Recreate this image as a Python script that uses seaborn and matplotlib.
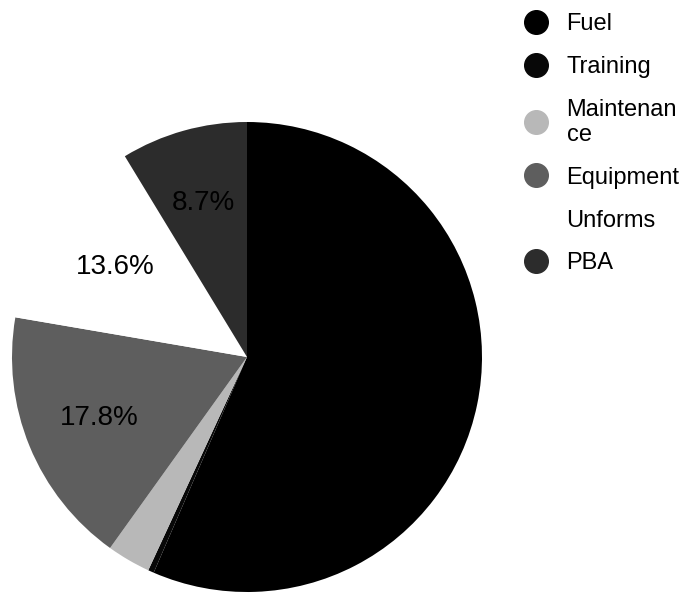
import matplotlib
matplotlib.use("Agg")
import matplotlib.pyplot as plt
from matplotlib.lines import Line2D
import seaborn as sns

sns.set_theme(style="white")
plt.rcParams['font.family'] = ['Liberation Sans', 'DejaVu Sans']
plt.rcParams['text.color'] = 'black'

# values (percent of total)
categories = ["Fuel", "Training", "Maintenance", "Equipment", "Unforms", "PBA"]
legend_labels = ["Fuel", "Training", "Maintenan\nce", "Equipment", "Unforms", "PBA"]
shares = [56.5, 0.4, 3.0, 17.8, 13.6, 8.7]
colors = ["#000000", "#080808", "#b8b8b8", "#5e5e5e", "#ffffff", "#2c2c2c"]


def pct_label(p):
    # small slices carry no visible label in the reference
    return f"{p:.1f}%" if p >= 5 else ""


fig = plt.figure(figsize=(6.86, 5.93), dpi=100)
ax = fig.add_axes([12 / 686, 1 / 593, 470 / 686, 470 / 593])

wedges, texts, autotexts = ax.pie(
    shares, colors=colors, startangle=90, counterclock=False,
    autopct=pct_label, pctdistance=0.68,
    textprops={'fontsize': 20, 'color': '#000000'},
    wedgeprops={'linewidth': 0},
)
ax.set_xlim(-1, 1)
ax.set_ylim(-1, 1)
ax.set_aspect('equal')

handles = []
for c in colors:
    handles.append(Line2D([], [], marker='o', linestyle='', markersize=17,
                          markerfacecolor=c, markeredgecolor=c))

fig.legend(handles, legend_labels, loc='upper left',
           bbox_to_anchor=(524 / 686, 1 - 13 / 593),
           frameon=False, fontsize=17, labelspacing=0.88,
           handletextpad=0.8, handlelength=1.0, borderaxespad=0,
           borderpad=0, labelcolor='black')

fig.savefig("out.png", dpi=100, facecolor="white")
